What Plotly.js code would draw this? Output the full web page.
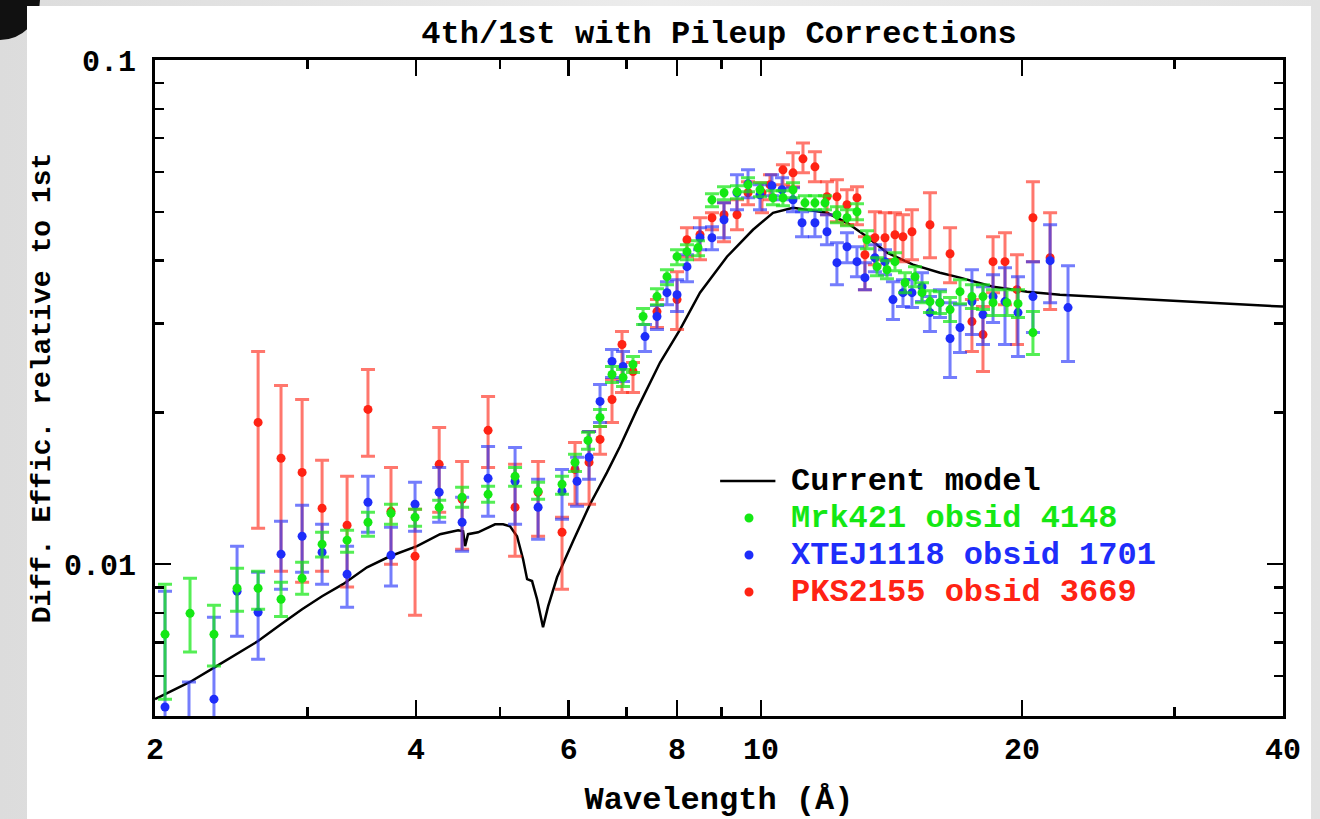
<!DOCTYPE html>
<html>
<head>
<meta charset="utf-8">
<script src="https://cdn.plot.ly/plotly-3.0.1.min.js"></script>
<style>
  html, body { margin:0; padding:0; width:1320px; height:819px; overflow:hidden;
    background: linear-gradient(90deg, #dcdcdc 0%, #ececec 50%, #e2e2e2 100%); }
  #corner { position:absolute; left:-40px; top:-40px; width:80px; height:80px; border-radius:50%; background:#111; }
  #chart { position:absolute; left:27px; top:6px; width:1284px; height:813px; background:#fff; }
</style>
</head>
<body>
<div id="corner"></div>
<div id="chart"></div>
<script>
// ---------------- data ----------------
const titleText = "4th/1st with Pileup Corrections";
const xTitle = "Wavelength (Å)";
const yTitle = "Diff. Effic. relative to 1st";
const xTickVals = [2, 4, 6, 8, 10, 20, 40];
const xTickText = ["2", "4", "6", "8", "10", "20", "40"];
const xMinorVals = [3, 5, 7, 9, 30];
const yTickVals = [0.01, 0.1];
const yTickText = ["0.01", "0.1"];
const yMinorVals = [0.006, 0.007, 0.008, 0.009, 0.02, 0.03, 0.04, 0.05, 0.06, 0.07, 0.08, 0.09];

const seriesNames = ["Current model", "Mrk421 obsid 4148", "XTEJ1118 obsid 1701", "PKS2155 obsid 3669"];

// Current model
const modelX = [2.0,2.195,2.345,2.487,2.630,2.795,2.956,3.117,3.295,3.512,3.733,4.011,4.264,4.474,4.533,4.557,4.593,4.717,4.935,5.041,5.135,5.231,5.316,5.373,5.444,5.517,5.605,5.681,5.818,6.070,6.350,6.643,6.876,7.194,7.648,8.064,8.504,9.135,9.789,10.324,10.887,11.298,11.915,12.565,13.249,13.973,14.973,16.084,16.963,18.519,20.27,22.12,26.86,32.09,40.0];
const modelY = [0.00540,0.00584,0.00625,0.00664,0.00704,0.00760,0.00814,0.00864,0.00913,0.00986,0.01037,0.01086,0.01147,0.01168,0.01162,0.01086,0.01147,0.01157,0.01200,0.01200,0.01189,0.01136,0.01023,0.00934,0.00926,0.00852,0.00750,0.00825,0.00942,0.01111,0.01315,0.01521,0.01712,0.02028,0.02512,0.02920,0.03456,0.04073,0.04606,0.04977,0.05092,0.05046,0.04977,0.04755,0.04461,0.04148,0.03927,0.03786,0.03701,0.03552,0.03472,0.03425,0.03363,0.03302,0.03243];

// Mrk421 obsid 4148 (green)
const mrkX = [2.054,2.195,2.339,2.487,2.630,2.795,2.956,3.117,3.331,3.521,3.743,3.990,4.254,4.521,4.844,5.204,5.532,5.895,6.102,6.316,6.521,6.732,6.932,7.118,7.311,7.586,7.790,8.001,8.215,8.459,8.779,9.064,9.382,9.661,9.973,10.324,10.600,10.887,11.238,11.540,11.852,12.234,12.565,12.903,13.249,13.608,13.973,14.273,14.659,15.053,15.336,15.663,16.084,16.521,16.963,17.510,18.031,18.519,19.218,19.789,20.59];
const mrkY = [0.00726,0.00799,0.00726,0.00896,0.00896,0.00852,0.00938,0.01096,0.01116,0.01211,0.01262,0.01239,0.01297,0.01358,0.01376,0.01494,0.01395,0.01441,0.01592,0.01760,0.01955,0.02378,0.02346,0.02489,0.03099,0.03394,0.03718,0.04073,0.04167,0.04243,0.05281,0.05453,0.05478,0.05655,0.05528,0.05330,0.05330,0.05528,0.05209,0.05209,0.05209,0.04932,0.04865,0.05000,0.04401,0.03892,0.03838,0.03981,0.03617,0.03718,0.03456,0.03318,0.03302,0.03199,0.03472,0.03394,0.03394,0.03302,0.03302,0.03287,0.02880];
const mrkHi = [0.00913,0.00938,0.00829,0.00982,0.00968,0.00921,0.01009,0.01157,0.01168,0.01268,0.01315,0.01285,0.01339,0.01421,0.01428,0.01556,0.01454,0.01494,0.01652,0.01826,0.02028,0.02467,0.02433,0.02582,0.03213,0.03520,0.03838,0.04205,0.04302,0.04381,0.05428,0.05604,0.05630,0.05839,0.05707,0.05503,0.05503,0.05707,0.05379,0.05379,0.05379,0.05115,0.05046,0.05185,0.04585,0.04054,0.04000,0.04148,0.03786,0.03892,0.03617,0.03488,0.03472,0.03379,0.03667,0.03584,0.03584,0.03504,0.03504,0.03504,0.03170];
const mrkLo = [0.00540,0.00670,0.00628,0.00807,0.00814,0.00788,0.00872,0.01033,0.01056,0.01136,0.01200,0.01189,0.01239,0.01297,0.01327,0.01428,0.01345,0.01376,0.01528,0.01690,0.01876,0.02293,0.02252,0.02400,0.02987,0.03272,0.03584,0.03927,0.04018,0.04091,0.05115,0.05281,0.05306,0.05478,0.05354,0.05162,0.05138,0.05330,0.05046,0.05046,0.05046,0.04755,0.04691,0.04821,0.04224,0.03734,0.03684,0.03821,0.03456,0.03552,0.03302,0.03155,0.03141,0.03028,0.03287,0.03213,0.03199,0.03113,0.03113,0.03084,0.02606];

// XTEJ1118 obsid 1701 (blue)
const xteX = [2.054,2.189,2.339,2.487,2.630,2.795,2.956,3.117,3.331,3.521,3.743,3.990,4.254,4.521,4.844,5.204,5.532,5.895,6.135,6.334,6.521,6.732,6.932,7.349,7.586,7.790,8.001,8.215,8.504,8.779,9.064,9.382,9.661,9.973,10.295,10.574,10.887,11.151,11.540,11.915,12.234,12.565,12.903,13.179,13.533,13.900,14.197,14.579,14.932,15.336,15.663,16.084,16.521,16.963,17.510,18.031,18.519,19.117,19.789,20.59,21.55,22.60];
const xteY = [0.00521,0.00475,0.00540,0.00884,0.00803,0.01047,0.01136,0.01056,0.00955,0.01327,0.01042,0.01315,0.01389,0.01211,0.01480,0.01461,0.01297,0.01395,0.01461,0.01630,0.02103,0.02524,0.02467,0.02828,0.03099,0.03456,0.03425,0.03892,0.04441,0.04441,0.04821,0.05453,0.05681,0.05403,0.05630,0.05528,0.05281,0.04755,0.04755,0.04564,0.03963,0.04263,0.03981,0.03701,0.04054,0.03981,0.03348,0.03456,0.03456,0.03552,0.03155,0.03302,0.02803,0.02947,0.03318,0.03127,0.03394,0.03318,0.03155,0.03394,0.04000,0.03228];
const xteHi = [0.00884,0.00584,0.00785,0.01086,0.00964,0.01217,0.01309,0.01200,0.01086,0.01494,0.01184,0.01454,0.01556,0.01358,0.01712,0.01705,0.01474,0.01542,0.01630,0.01834,0.02272,0.02666,0.02642,0.02987,0.03258,0.03634,0.03667,0.04110,0.04648,0.04670,0.05209,0.05919,0.06056,0.05655,0.05919,0.05839,0.05579,0.05000,0.05023,0.04932,0.04341,0.04543,0.04263,0.03963,0.04302,0.04205,0.03634,0.03667,0.03667,0.03786,0.03394,0.03504,0.03302,0.03272,0.03838,0.03552,0.03751,0.03874,0.03718,0.03981,0.04712,0.03910];
const xteLo = [0.00411,0.00375,0.00411,0.00720,0.00648,0.00892,0.00964,0.00913,0.00822,0.01157,0.00905,0.01162,0.01211,0.01061,0.01245,0.01200,0.01121,0.01228,0.01303,0.01474,0.01911,0.02346,0.02304,0.02642,0.02920,0.03272,0.03170,0.03634,0.04205,0.04205,0.04441,0.05046,0.05330,0.05046,0.05379,0.05281,0.05000,0.04461,0.04461,0.04302,0.03584,0.03963,0.03718,0.03504,0.03803,0.03751,0.03056,0.03243,0.03228,0.03318,0.02893,0.03084,0.02346,0.02630,0.02854,0.02727,0.03014,0.02727,0.02582,0.02880,0.03302,0.02524];

// PKS2155 obsid 3669 (red)
const pksX = [2.630,2.795,2.956,3.117,3.331,3.521,3.743,3.990,4.254,4.521,4.844,5.204,5.532,5.895,6.102,6.334,6.521,6.732,6.913,7.118,7.586,8.001,8.215,8.504,8.779,9.064,9.382,9.661,10.026,10.241,10.600,10.887,11.179,11.540,11.915,12.234,12.565,12.903,13.179,13.533,13.900,14.273,14.579,14.932,15.663,16.521,17.510,18.031,18.519,19.117,19.735,20.59,21.55];
const pksY = [0.01911,0.01622,0.01521,0.01291,0.01195,0.02028,0.01273,0.01037,0.01578,0.01345,0.01843,0.01297,0.01389,0.01157,0.01542,0.01592,0.01768,0.02122,0.02727,0.02411,0.03170,0.03348,0.04401,0.04502,0.04865,0.04932,0.04932,0.05453,0.05453,0.05655,0.06056,0.05974,0.06368,0.06140,0.05354,0.05354,0.05162,0.05330,0.04110,0.04441,0.04441,0.04502,0.04461,0.04564,0.04712,0.04129,0.03028,0.02854,0.03981,0.03981,0.03504,0.04865,0.04054];
const pksHi = [0.02642,0.02262,0.02122,0.01607,0.01494,0.02433,0.01556,0.01285,0.01868,0.01599,0.02151,0.01578,0.01599,0.01239,0.01744,0.01834,0.01876,0.02325,0.02893,0.02512,0.03348,0.03803,0.04648,0.04865,0.04977,0.05209,0.05281,0.05733,0.05707,0.05919,0.06196,0.06545,0.06849,0.06575,0.05733,0.05786,0.05528,0.05604,0.04461,0.05000,0.04977,0.04977,0.04932,0.05046,0.05453,0.04648,0.03348,0.03243,0.04461,0.04543,0.04110,0.05733,0.04977];
const pksLo = [0.01179,0.00968,0.00921,0.00968,0.00901,0.01637,0.01000,0.00792,0.01268,0.01071,0.01556,0.01037,0.01136,0.00892,0.01315,0.01315,0.01652,0.01911,0.02191,0.02191,0.02947,0.02920,0.04073,0.04018,0.04606,0.04361,0.04606,0.05162,0.04977,0.05281,0.05655,0.05604,0.05974,0.05733,0.04932,0.04777,0.04712,0.04712,0.03504,0.03927,0.04018,0.04018,0.03981,0.04018,0.04054,0.03617,0.02642,0.02411,0.03456,0.03272,0.02727,0.03981,0.03199];

// ---------------- styles ----------------
const FONT = "Liberation Mono, Courier New, monospace";
const colGreen = "rgb(20,232,20)", colBlue = "rgb(30,45,250)", colRed = "rgb(255,35,20)";
const barGreen = "rgba(20,232,20,0.72)", barBlue = "rgba(30,45,250,0.62)", barRed = "rgba(255,35,20,0.62)";

function errTrace(x, y, hi, lo, col, barCol, name) {
  return {
    type: "scatter", mode: "markers", x: x, y: y, name: name, showlegend: false,
    marker: { color: col, size: 9 },
    error_y: { type: "data", symmetric: false,
      array: hi.map((v, i) => v - y[i]), arrayminus: lo.map((v, i) => y[i] - v),
      color: barCol, thickness: 3, width: 7 },
    cliponaxis: true
  };
}

const traces = [
  { type: "scatter", mode: "lines", x: modelX, y: modelY, name: seriesNames[0], showlegend: false,
    line: { color: "#000", width: 2.5 } },
  errTrace(pksX, pksY, pksHi, pksLo, colRed, barRed, seriesNames[3]),
  errTrace(xteX, xteY, xteHi, xteLo, colBlue, barBlue, seriesNames[2]),
  errTrace(mrkX, mrkY, mrkHi, mrkLo, colGreen, barGreen, seriesNames[1])
];

// legend (drawn as annotations/shapes inside the plot)
const legX = 0.562, legRows = [0.3582, 0.3018, 0.2454, 0.1890];
const legCols = ["#000", colGreen, colBlue, colRed];
const annotations = seriesNames.map((n, i) => ({
  xref: "paper", yref: "paper", x: legX, y: legRows[i], xanchor: "left", yanchor: "middle",
  text: n, showarrow: false, font: { family: FONT, size: 32, color: legCols[i], weight: "bold" }
}));
const shapes = [
  { type: "line", xref: "paper", yref: "paper", x0: 0.501, x1: 0.550, y0: legRows[0], y1: legRows[0],
    line: { color: "#000", width: 2.5 } }
];
for (let i = 1; i < 4; i++) {
  shapes.push({ type: "circle", xref: "paper", yref: "paper",
    x0: 0.5266 - 0.004, x1: 0.5266 + 0.004, y0: legRows[i] - 0.0069, y1: legRows[i] + 0.0069,
    fillcolor: legCols[i], line: { width: 0 } });
}

const axisCommon = {
  showline: true, linecolor: "#000", linewidth: 3, mirror: "ticks",
  ticks: "inside", ticklen: 16, tickwidth: 2.5, tickcolor: "#000",
  showgrid: false, zeroline: false,
  tickfont: { family: FONT, size: 30, color: "#000", weight: "bold" }
};

const layout = {
  width: 1284, height: 813,
  margin: { l: 128, r: 28, t: 54, b: 103 },
  paper_bgcolor: "#fff", plot_bgcolor: "#fff",
  font: { family: FONT, color: "#000" },
  title: { text: titleText, x: 0.5, xref: "paper", y: 0.968, yref: "container", yanchor: "middle",
    font: { family: FONT, size: 32, color: "#000", weight: "bold" } },
  xaxis: Object.assign({}, axisCommon, {
    type: "log", range: [Math.log10(2), Math.log10(40)],
    tickmode: "array", tickvals: xTickVals, ticktext: xTickText, ticklabelstandoff: 4,
    minor: { tickmode: "array", tickvals: xMinorVals, ticks: "inside", ticklen: 9, tickwidth: 2.5, tickcolor: "#000", showgrid: false },
    title: { text: xTitle, standoff: 24, font: { family: FONT, size: 32, color: "#000", weight: "bold" } }
  }),
  yaxis: Object.assign({}, axisCommon, {
    type: "log", range: [Math.log10(0.005), -1],
    tickmode: "array", tickvals: yTickVals, ticktext: yTickText, ticklabelstandoff: 10,
    minor: { tickmode: "array", tickvals: yMinorVals, ticks: "inside", ticklen: 9, tickwidth: 2.5, tickcolor: "#000", showgrid: false },
    title: { text: yTitle, standoff: 8, font: { family: FONT, size: 28, color: "#000", weight: "bold" } }
  }),
  showlegend: false,
  annotations: annotations,
  shapes: shapes
};

Plotly.newPlot("chart", traces, layout, { displayModeBar: false, staticPlot: true });
</script>
</body>
</html>
